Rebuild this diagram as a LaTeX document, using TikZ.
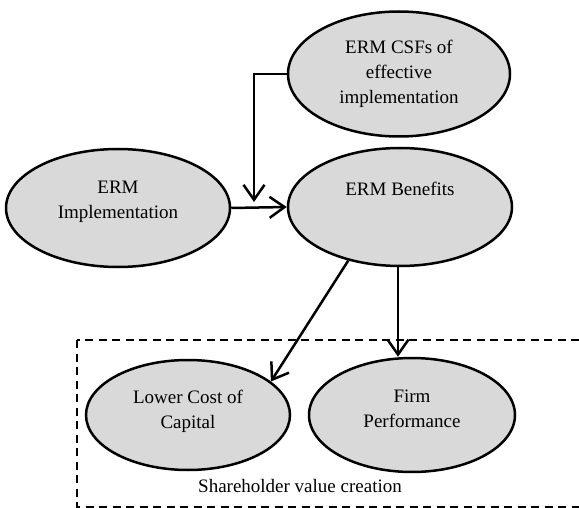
\documentclass[tikz,border=0pt]{standalone}
\usepackage{fontspec}
\setmainfont{Liberation Serif}
\usetikzlibrary{shapes.geometric,arrows.meta}
\definecolor{ellfill}{HTML}{D9D9D9}
\tikzset{
  ell/.style={ellipse, draw=black, line width=2.5pt, fill=ellfill, inner sep=0pt},
  lbl/.style={inner sep=0pt, align=center, font=\fontsize{19}{25}\selectfont},
  arr/.style={line width=2.5pt, -{Straight Barb[length=15pt,width=21pt,line width=2.5pt]}},
  framebox/.style={line width=2.5pt, dash pattern=on 8pt off 5.5pt}
}
\begin{document}
\begin{tikzpicture}[x=1pt,y=-1pt]
\useasboundingbox (0,0) rectangle (579,508);
\begin{scope}
\clip (0,0) rectangle (579,508);
\draw[framebox] (77,340) rectangle (620,507);
\end{scope}
% ellipses
\node[ell, minimum width=222pt, minimum height=125pt] (C) at (399,74) {};
\node[lbl] (Ct) at (399,74) {ERM CSFs of\\effective\\implementation};
\node[ell, minimum width=224pt, minimum height=118pt] (I) at (118,208) {};
\node[lbl] (It) at (118,202) {ERM\\Implementation};
\node[ell, minimum width=224pt, minimum height=118pt] (B) at (400,207) {};
\node[lbl] (Bt) at (400,189) {ERM Benefits};
\node[ell, minimum width=204pt, minimum height=110pt] (L) at (188,415) {};
\node[lbl] (Lt) at (188,411) {Lower Cost of\\Capital};
\node[ell, minimum width=206pt, minimum height=114pt] (F) at (412,415) {};
\node[lbl] (Ft) at (412,409) {Firm\\Performance};
\node[lbl] (S) at (300,486) {Shareholder value creation};
% connectors
\coordinate (j) at (254,202);
\draw[arr] (C.west) -| (j);
\draw[arr] (I.east) -- (B.west);
\draw[arr] (B.226) -- (L.22);
\coordinate (bf) at (398,0);
\draw[arr] (B.south -| bf) -- (F.north -| bf);
\end{tikzpicture}
\end{document}
